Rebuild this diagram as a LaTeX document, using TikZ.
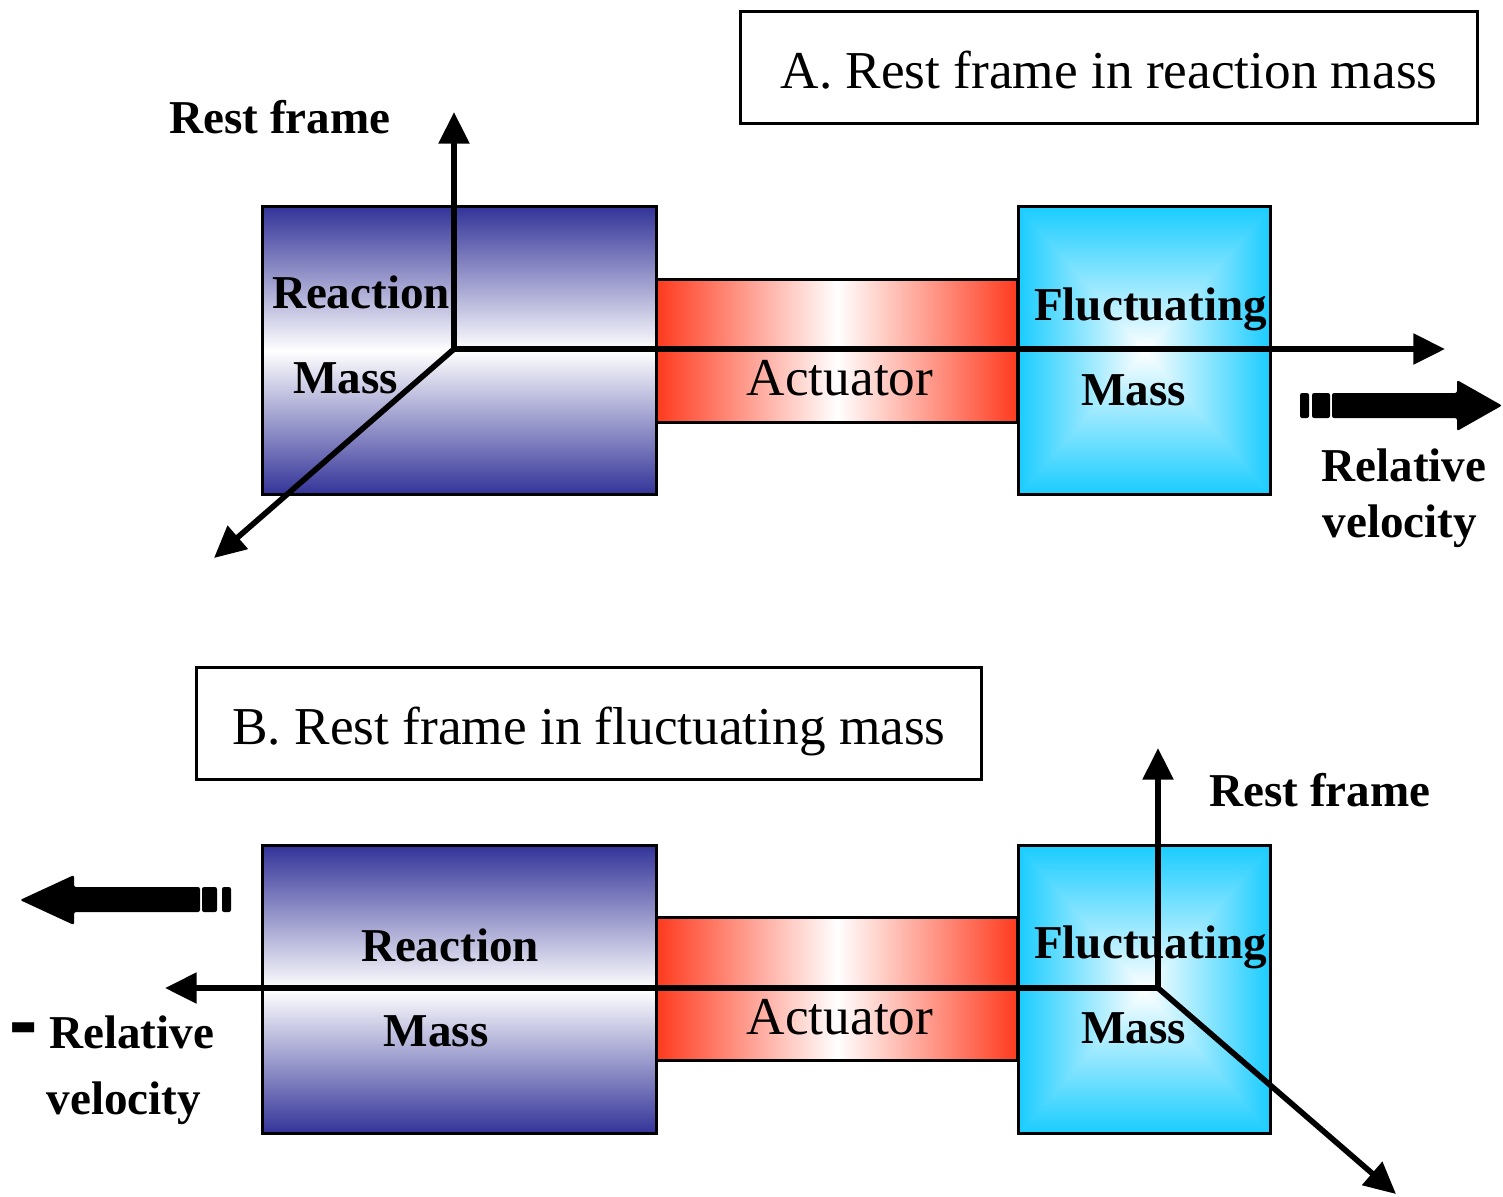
\documentclass[tikz,border=0pt]{standalone}
\usepackage{fontspec}
\setmainfont{Liberation Serif}
\usetikzlibrary{arrows.meta}
\definecolor{rblue}{RGB}{51,51,153}
\definecolor{ared}{RGB}{255,58,30}
\pgfdeclarefunctionalshading{pyramid}{\pgfpoint{-50bp}{-50bp}}{\pgfpoint{50bp}{50bp}}{}{abs exch abs 2 copy lt {exch} if pop 50 div 2.0 mul dup 1 gt {pop 1} if dup 0.9 mul 1 exch sub exch 0.2 mul 1 exch sub 1}
\tikzset{
  rmass/.style={draw, line width=0.85pt, anchor=north west, inner sep=0pt, minimum width=3.94cm, minimum height=2.88cm, top color=rblue, bottom color=rblue, middle color=white},
  actbox/.style={draw, line width=0.85pt, anchor=north west, inner sep=0pt, minimum width=3.61cm, minimum height=1.43cm, left color=ared, right color=ared, middle color=white},
  fmass/.style={draw, line width=0.85pt, anchor=north west, inner sep=0pt, minimum width=2.52cm, minimum height=2.88cm, shade, shading=pyramid},
  titlebox/.style={draw, line width=0.85pt, inner sep=0pt, minimum height=1.11cm, text height=12.2pt, text depth=0pt, font=\fontsize{15.15}{18}\selectfont},
  bl/.style={font=\fontsize{13.4}{16}\selectfont\bfseries, inner sep=0pt, anchor=base},
  rg/.style={font=\fontsize{15.15}{18}\selectfont, inner sep=0pt, anchor=base},
  axis/.style={line width=1.6pt, -{Triangle[length=9pt,width=8.5pt]}},
  bigarrow/.style={fill=black, rounded corners=0.6pt}
}
\begin{document}
\begin{tikzpicture}[x=0.01cm, y=-0.01cm]
\useasboundingbox (0,0) rectangle (1503,1196);
% ---------- Panel A ----------
\node[titlebox, minimum width=7.36cm] (titleA) at (1109,67.5) {A. Rest frame in reaction mass};
\node[actbox] (actA) at (655,278) {};
\node[rmass] (reactA) at (261,205) {};
\node[fmass] (fluctA) at (1017,205) {};
\node[bl] (restA) at (280,133) {Rest frame};
\node[bl] (reacA1) at (361,308) {Reaction};
\node[bl] (reacA2) at (345.5,393) {Mass};
\node[rg] (actlabA) at (840,395) {Actuator};
\node[bl] (flucA1) at (1150.5,320) {Fluctuating};
\node[bl] (flucA2) at (1133.5,405) {Mass};
\node[bl] (relA1) at (1404,481) {Relative};
\node[bl] (relA2) at (1400,537) {velocity};
\coordinate (oA) at (454,349);
\coordinate (upA) at (454,112);
\coordinate (rtA) at (1445,349);
\coordinate (dgA) at (214,558);
\draw[axis] (oA) -- (upA);
\draw[axis] (oA) -- (rtA);
\draw[axis] (oA) -- (dgA);
\fill[bigarrow] (1300,393) rectangle (1309,418);
\fill[bigarrow] (1312,393) rectangle (1330,418);
\fill[bigarrow] (1332,393) -- (1457,393) -- (1457,380) -- (1502,405.5) -- (1457,431) -- (1457,418) -- (1332,418) -- cycle;
% ---------- Panel B ----------
\node[titlebox, minimum width=7.84cm] (titleB) at (589,723.5) {B. Rest frame in fluctuating mass};
\node[actbox] (actB) at (655,916) {};
\node[rmass] (reactB) at (261,844) {};
\node[fmass] (fluctB) at (1017,844) {};
\node[bl] (restB) at (1320,806) {Rest frame};
\node[bl] (reacB1) at (450,961) {Reaction};
\node[bl] (reacB2) at (436,1046) {Mass};
\node[rg] (actlabB) at (840,1034) {Actuator};
\node[bl] (flucB1) at (1150.5,958) {Fluctuating};
\node[bl] (flucB2) at (1133.5,1043) {Mass};
\node[bl] (minusB) at (23.5,1055) {\scalebox{1.8}[2.5]{-}};
\node[bl] (relB1) at (131.5,1048) {Relative};
\node[bl] (relB2) at (124,1114) {velocity};
\coordinate (oB) at (1158,988);
\coordinate (upB) at (1158,748);
\coordinate (lfB) at (165,988);
\coordinate (dgB) at (1396,1194);
\draw[axis] (oB) -- (upB);
\draw[axis] (oB) -- (lfB);
\draw[axis] (oB) -- (dgB);
\fill[bigarrow] (222,887) rectangle (231,912);
\fill[bigarrow] (202,887) rectangle (217,912);
\fill[bigarrow] (200,887) -- (74,887) -- (74,875) -- (20,900) -- (74,925) -- (74,912) -- (200,912) -- cycle;
\end{tikzpicture}
\end{document}
